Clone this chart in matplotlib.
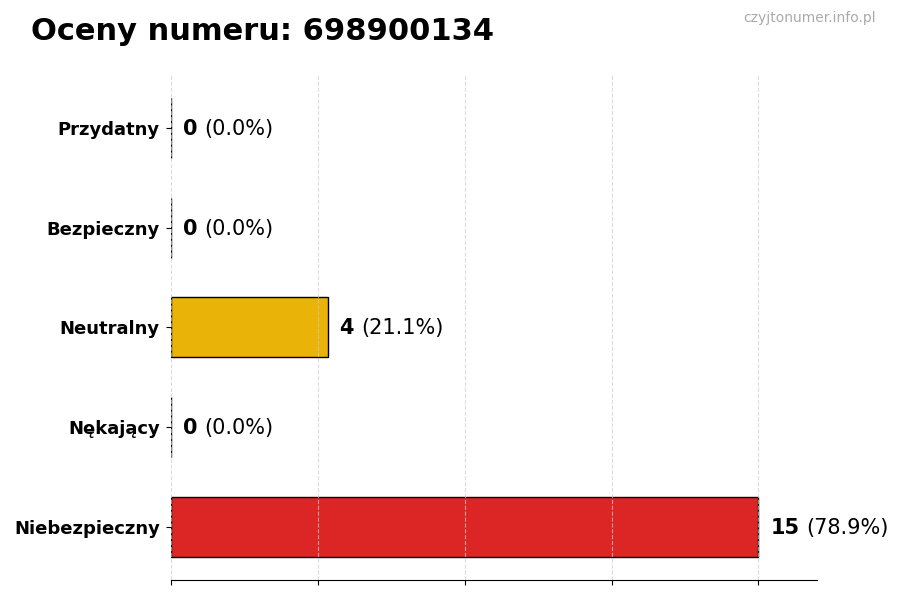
import matplotlib
matplotlib.use("Agg")
import matplotlib.pyplot as plt
import numpy as np

categories = ["Przydatny", "Bezpieczny", "Neutralny", "Nękający", "Niebezpieczny"]
counts = [0, 0, 4, 0, 15]
colors = ["#22c55e", "#3b82f6", "#eab308", "#f97316", "#dc2626"]
number = "698900134"

total = sum(counts)
ypos = np.arange(len(categories))[::-1]

fig = plt.figure(figsize=(9, 6), dpi=100)
ax = fig.add_axes([0.19, 0.0333, 0.718, 0.842])

ax.barh(ypos, counts, height=0.6, color=colors, edgecolor="black", linewidth=1)

xmax = max(counts)
ax.set_xlim(0, xmax * 1.1)
ax.set_xticks(np.linspace(0, xmax, 5))
ax.set_xticklabels([])
ax.set_yticks(ypos)
ax.set_yticklabels(categories, fontsize=13, fontweight="bold")
ax.tick_params(axis="y", pad=4.5)

ax.grid(axis="x", linestyle="--", color="#cccccc", linewidth=0.8, alpha=0.7)
ax.set_axisbelow(False)
for s in ["top", "right", "left"]:
    ax.spines[s].set_visible(False)

for y, c in zip(ypos, counts):
    pct = 100 * c / total if total else 0
    t = ax.text(c + xmax * 0.02, y - 0.01, str(c), fontsize=15, fontweight="bold", va="center", ha="left")
    ax.annotate(f"({pct:.1f}%)", xy=(1, 0.5), xycoords=t, xytext=(5, 0),
                textcoords="offset points", fontsize=15, va="center", ha="left")

fig.text(0.034, 0.948, f"Oceny numeru: {number}", fontsize=22, fontweight="bold", va="center", ha="left")
fig.text(0.973, 0.970, "czyjtonumer.info.pl", fontsize=10, color="#aaaaaa", va="center", ha="right")

fig.savefig("out.png", dpi=100)
